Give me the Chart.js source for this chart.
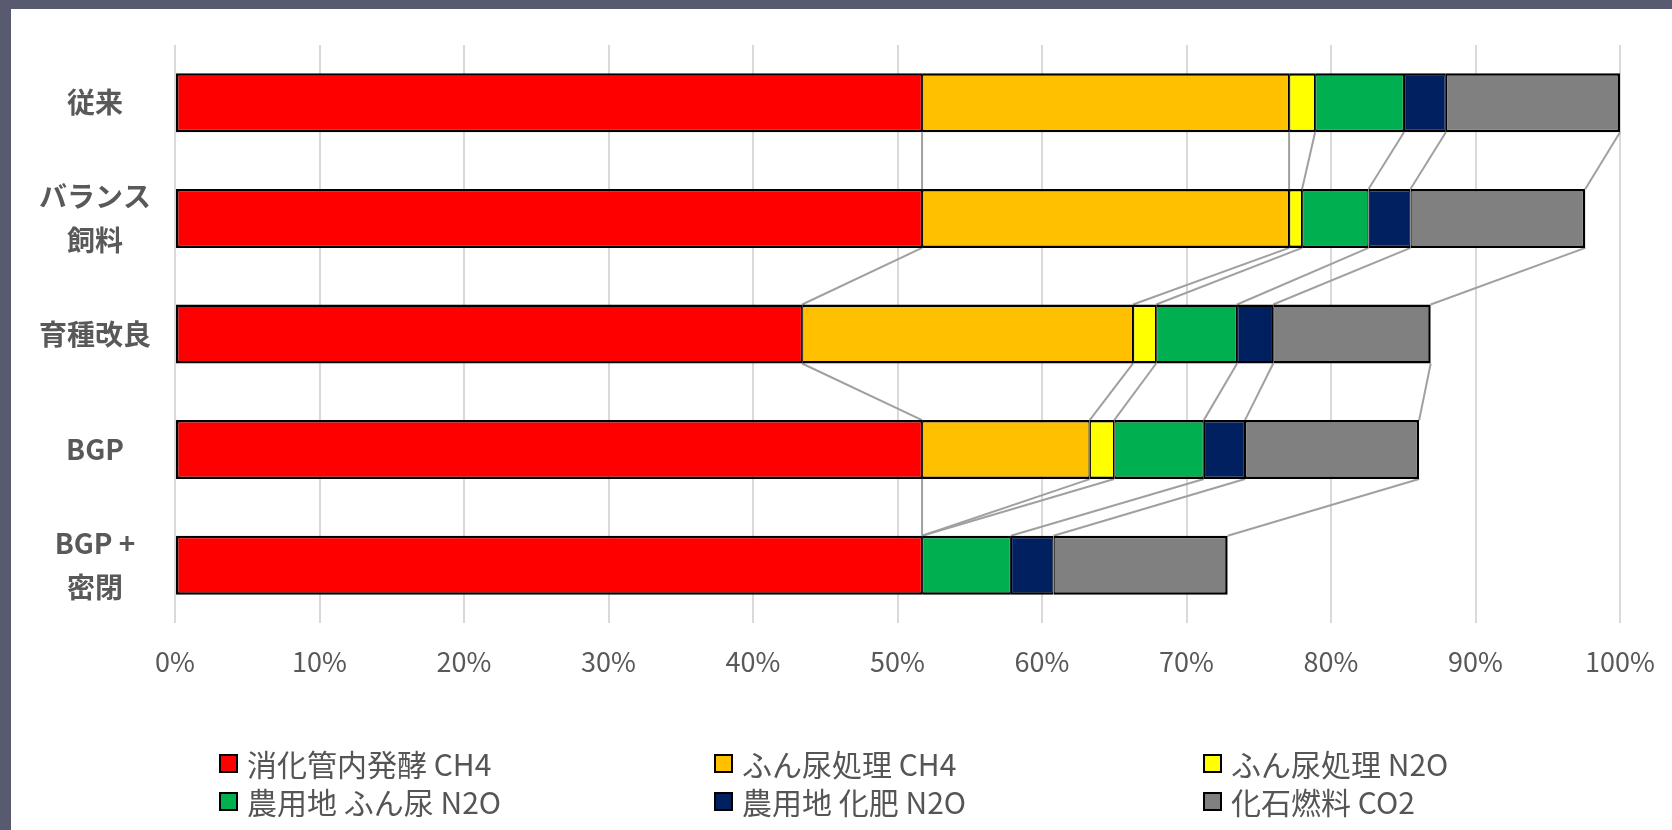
<!DOCTYPE html>
<html lang="ja">
<head>
<meta charset="utf-8">
<title>GHG breakdown</title>
<script src="https://cdn.jsdelivr.net/npm/chart.js@4.4.1/dist/chart.umd.min.js"></script>
<style>
    html, body {
        margin: 0;
        padding: 0;
    }
    body {
        width: 1672px;
        height: 830px;
        background: #585b6f;
        position: relative;
        overflow: hidden;
        font-family: "Noto Sans CJK JP", sans-serif;
    }
    #panel {
        position: absolute;
        left: 11px;
        top: 9px;
        right: 0;
        bottom: 0;
        background: #ffffff;
    }
    #myChart {
        position: absolute;
        left: 0;
        top: 0;
    }
    #legend {
        position: absolute;
        left: 219px;
        top: 744px;
        display: grid;
        grid-template-columns: 495px 489px auto;
        grid-auto-rows: 38px;
        color: #555555;
        font-size: 30px;
    }
    #legend .item {
        display: flex;
        align-items: center;
        white-space: nowrap;
    }
    #legend .box {
        width: 15px;
        height: 15px;
        border: 2px solid #000;
        margin-right: 9px;
    }
</style>
</head>
<body>
<div id="panel"></div>
<canvas id="myChart" width="1672" height="830"></canvas>
<div id="legend"></div>
<script>
// categories (y axis), two-line ones as arrays
const categories = [['従来'], ['バランス', '飼料'], ['育種改良'], ['BGP'], ['BGP +', '密閉']];

const seriesNames = [
    '消化管内発酵 CH4',
    'ふん尿処理 CH4',
    'ふん尿処理 N2O',
    '農用地 ふん尿 N2O',
    '農用地 化肥 N2O',
    '化石燃料 CO2'
];

// shares in % of the baseline total
const entericCH4 = [51.7, 51.7, 43.4, 51.7, 51.7];
const manureCH4 = [25.4, 25.4, 22.9, 11.6, 0];
const manureN2O = [1.8, 0.9, 1.6, 1.7, 0];
const soilManureN2O = [6.15, 4.6, 5.6, 6.2, 6.15];
const fertilizerN2O = [2.9, 2.9, 2.5, 2.85, 2.95];
const fossilCO2 = [12.05, 12.1, 10.9, 12.05, 12.05];

const xTickValues = [0, 10, 20, 30, 40, 50, 60, 70, 80, 90, 100];

const seriesData = [entericCH4, manureCH4, manureN2O, soilManureN2O, fertilizerN2O, fossilCO2];
const seriesColors = ['#ff0000', '#ffc000', '#ffff00', '#00b050', '#002060', '#808080'];

const lastIdx = seriesData.length - 1;

const datasets = seriesData.map((values, i) => {
    return {
        label: seriesNames[i],
        data: values,
        backgroundColor: seriesColors[i],
        borderColor: '#000000',
        borderWidth: {
            top: 2.5,
            bottom: 2.5,
            left: i === 0 ? 2.5 : 1.25,
            right: i === lastIdx ? 2.5 : 1.25
        },
        borderSkipped: false,
        barPercentage: 0.51,
        categoryPercentage: 1.0
    };
});

// Excel style "series lines" between neighbouring bars
const seriesLines = {
    id: 'seriesLines',
    beforeDatasetsDraw(chart) {
        const ctx = chart.ctx;
        ctx.save();
        ctx.strokeStyle = '#a0a0a0';
        ctx.lineWidth = 2;
        chart.data.datasets.forEach((ds, d) => {
            const meta = chart.getDatasetMeta(d);
            for (let i = 0; i < meta.data.length - 1; i++) {
                const a = meta.data[i];
                const b = meta.data[i + 1];
                ctx.beginPath();
                ctx.moveTo(a.x, a.y + a.height / 2);
                ctx.lineTo(b.x, b.y - b.height / 2);
                ctx.stroke();
            }
        });
        ctx.restore();
    }
};

const htmlLegend = {
    id: 'htmlLegend',
    afterUpdate(chart) {
        const box = document.getElementById('legend');
        box.innerHTML = '';
        chart.data.datasets.forEach((ds) => {
            const item = document.createElement('div');
            item.className = 'item';
            const sw = document.createElement('span');
            sw.className = 'box';
            sw.style.background = ds.backgroundColor;
            const txt = document.createElement('span');
            txt.textContent = ds.label;
            item.appendChild(sw);
            item.appendChild(txt);
            box.appendChild(item);
        });
    }
};

const ctx = document.getElementById('myChart');
const myChart = new Chart(ctx, { // eslint-disable-line
    type: 'bar',
    data: {
        labels: categories,
        datasets: datasets
    },
    plugins: [seriesLines, htmlLegend],
    options: {
        indexAxis: 'y',
        responsive: false,
        animation: false,
        layout: {
            padding: { left: 11, top: 45, right: 52, bottom: 150 }
        },
        plugins: {
            legend: { display: false },
            tooltip: { enabled: false }
        },
        scales: {
            x: {
                stacked: true,
                min: 0,
                max: 100,
                afterBuildTicks: (scale) => {
                    scale.ticks = xTickValues.map((v) => ({ value: v }));
                },
                afterFit: (scale) => {
                    scale.height = 57;
                    scale.paddingLeft = 0;
                    scale.paddingRight = 0;
                },
                grid: {
                    color: '#d9d9d9',
                    lineWidth: 2,
                    drawTicks: false
                },
                border: { display: false },
                ticks: {
                    padding: 23,
                    color: '#595959',
                    font: { family: '"Noto Sans CJK JP", sans-serif', size: 27 },
                    callback: (v) => v + '%'
                }
            },
            y: {
                stacked: true,
                afterFit: (scale) => {
                    scale.width = 164;
                    scale.paddingTop = 0;
                    scale.paddingBottom = 0;
                },
                grid: { display: false, drawTicks: false },
                border: { display: false },
                ticks: {
                    crossAlign: 'center',
                    padding: 24,
                    color: '#595959',
                    font: { family: '"Noto Sans CJK JP", sans-serif', size: 28, weight: 'bold', lineHeight: 1.55 }
                }
            }
        }
    }
});
</script>
</body>
</html>
